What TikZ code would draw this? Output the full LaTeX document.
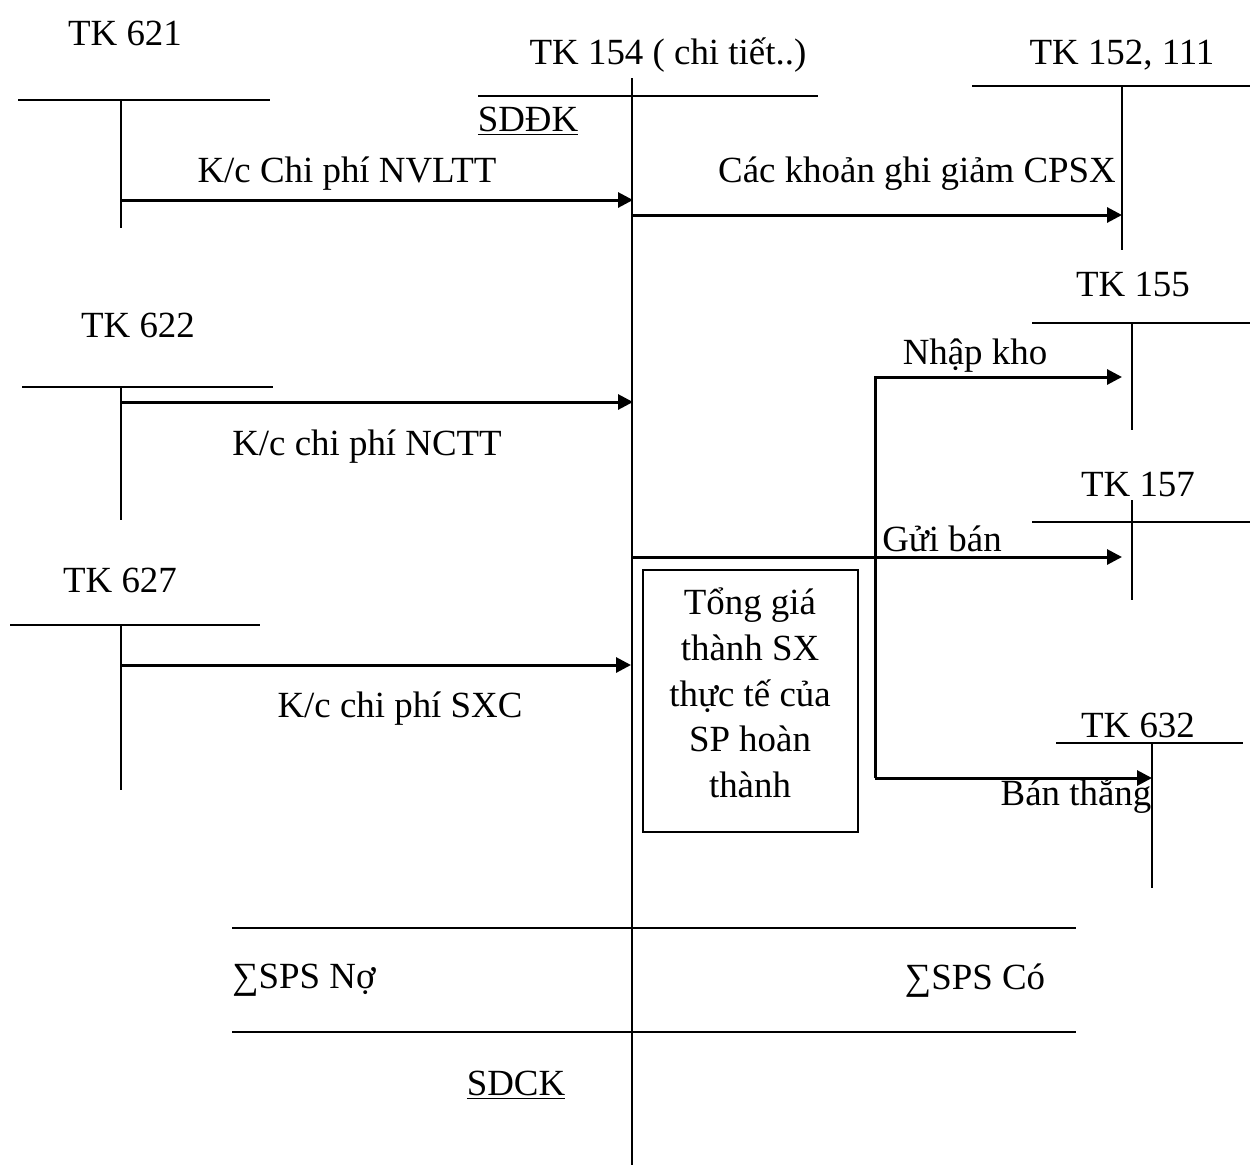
\documentclass[tikz,border=0pt]{standalone}
\usepackage{fontspec}
\setmainfont{Liberation Serif}
\usetikzlibrary{arrows.meta,positioning}

\begin{document}
\begin{tikzpicture}[
		x=0.02cm, y=-0.02cm,
		tline/.style={line width=1.1pt},
		flow/.style={line width=1.7pt, -{Triangle[length=0.3cm,width=0.3cm]}},
		label/.style={font=\fontsize{21}{25}\selectfont, inner sep=0pt, yshift=-2pt},
		totalbox/.style={draw, line width=1.1pt, inner sep=0pt,
			minimum width=4.3cm, minimum height=5.24cm},
		boxtext/.style={align=center, inner sep=0pt,
			font=\fontsize{21}{26}\selectfont},
	]
		\useasboundingbox (0,0) rectangle (1250,1167);
		
		% TK 154
		\node[label] (t154) at (668,52) {TK 154 ( chi tiết..)};
		\draw[tline] (478,96) -- (818,96);
		\draw[tline] (632,78) -- (632,1165);
		\node[label] (sddk) at (528,118) {\underline{SDĐK}};
		
		% TK 621, 622, 627
		\node[label] (t621) at (125,30) {TK 621};
		\draw[tline] (18,100) -- (270,100);
		\draw[tline] (121,100) -- (121,228);
		\node[label] (t622) at (138,322) {TK 622};
		\draw[tline] (22,387) -- (273,387);
		\draw[tline] (121,387) -- (121,520);
		\node[label] (t627) at (120,577) {TK 627};
		\draw[tline] (10,625) -- (260,625);
		\draw[tline] (121,625) -- (121,790);
		
		% TK 152, 155, 157, 632
		\node[label] (t152) at (1122,52) {TK 152, 111};
		\draw[tline] (972,86) -- (1250,86);
		\draw[tline] (1122,86) -- (1122,250);
		\node[label] (t155) at (1133,281) {TK 155};
		\draw[tline] (1032,323) -- (1250,323);
		\draw[tline] (1132,323) -- (1132,430);
		\node[label] (t157) at (1138,481) {TK 157};
		\draw[tline] (1032,522) -- (1250,522);
		\draw[tline] (1132,500) -- (1132,600);
		\node[label] (t632) at (1138,722) {TK 632};
		\draw[tline] (1056,743) -- (1243,743);
		\draw[tline] (1152,743) -- (1152,888);
		
		% ends of the flows
		\coordinate (o621) at (121,200);
		\coordinate (i621) at (633,200);
		\coordinate (o622) at (121,402);
		\coordinate (i622) at (633,402);
		\coordinate (o627) at (121,665);
		\coordinate (i627) at (631,665);
		\coordinate (ogiam) at (632,215);
		\coordinate (i152) at (1122,215);
		\coordinate (oxuat) at (632,557);
		\coordinate (i157) at (1122,557);
		\coordinate (nhap) at (875,377);
		\coordinate (i155) at (1122,377);
		\coordinate (ban) at (875,778);
		\coordinate (i632) at (1152,778);
		
		\draw[flow] (o621) -- (i621);
		\draw[flow] (o622) -- (i622);
		\draw[flow] (o627) -- (i627);
		\draw[flow] (ogiam) -- (i152);
		\draw[flow] (oxuat) -- (i157);
		\draw[flow] (ban) -- (nhap) -- (i155);
		\draw[flow] (ban) -- (i632);
		
		\node[label] (nvl) at (347,170) {K/c Chi phí NVLTT};
		\node[label] (nc) at (367,443) {K/c chi phí NCTT};
		\node[label] (sxc) at (400,705) {K/c chi phí SXC};
		\node[label] (giam) at (917,170) {Các khoản ghi giảm CPSX};
		\node[label] (lnhap) at (975,352) {Nhập kho};
		\node[label] (lgui) at (942,535) {Gửi bán};
		\node[label] (lban) at (1076,793) {Bán thẳng};
		
		\node[totalbox] (tong) at (750.5,701) {};
		\node[boxtext] (tongtext) at (750,693) {Tổng giá\\thành SX\\thực tế của\\SP hoàn\\thành};
		
		% totals
		\draw[tline] (232,928) -- (1076,928);
		\draw[tline] (232,1032) -- (1076,1032);
		\node[label, anchor=west] (psno) at (232,977) {∑SPS Nợ};
		\node[label] (psco) at (975,977) {∑SPS Có};
		\node[label] (sdck) at (516,1082) {\underline{SDCK}};
	\end{tikzpicture}
\end{document}
